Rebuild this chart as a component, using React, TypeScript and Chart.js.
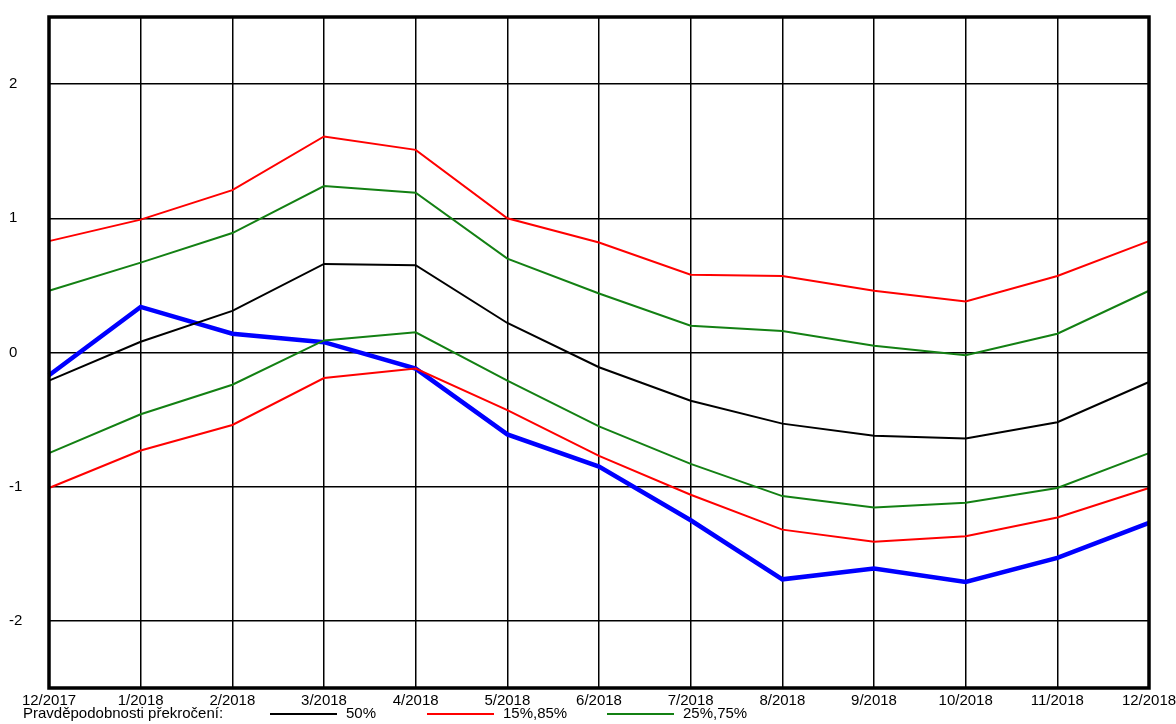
import React, { useEffect, useRef } from "react";
import { Chart, registerables } from "chart.js";

Chart.register(...registerables);

const months = ["12/2017", "1/2018", "2/2018", "3/2018", "4/2018", "5/2018", "6/2018", "7/2018", "8/2018", "9/2018", "10/2018", "11/2018", "12/2018"];
const yTicks = [-2, -1, 0, 1, 2];

const median50 = [-0.21, 0.08, 0.31, 0.66, 0.65, 0.22, -0.11, -0.36, -0.53, -0.62, -0.64, -0.52, -0.22];
const upper85 = [0.83, 0.99, 1.21, 1.61, 1.51, 1.0, 0.82, 0.58, 0.57, 0.46, 0.38, 0.57, 0.83];
const lower15 = [-1.01, -0.73, -0.54, -0.19, -0.12, -0.43, -0.77, -1.06, -1.32, -1.41, -1.37, -1.23, -1.01];
const upper75 = [0.46, 0.67, 0.89, 1.24, 1.19, 0.7, 0.44, 0.2, 0.16, 0.05, -0.02, 0.14, 0.46];
const lower25 = [-0.75, -0.46, -0.24, 0.09, 0.15, -0.21, -0.55, -0.83, -1.07, -1.155, -1.12, -1.01, -0.75];
const actual = [-0.17, 0.34, 0.14, 0.077, -0.12, -0.61, -0.85, -1.25, -1.69, -1.61, -1.71, -1.53, -1.27];

const legendTitle = "Pravděpodobnosti překročení:";
const legendLabels = ["50%", "15%,85%", "25%,75%"];
const legendColors = ["#000000", "#ff0000", "#138013"];
const legendX = [270, 427, 607];

const FONT = "'Liberation Sans', Arial, sans-serif";

export default function App() {
  const ref = useRef<HTMLCanvasElement | null>(null);

  useEffect(() => {
    const canvas = ref.current;
    if (!canvas) return;

    const framePlugin = {
      id: "frame",
      afterDatasetsDraw(chart: any) {
        const { ctx, chartArea } = chart;
        ctx.save();
        ctx.strokeStyle = "#000";
        ctx.lineWidth = 3.5;
        ctx.strokeRect(chartArea.left, chartArea.top, chartArea.right - chartArea.left, chartArea.bottom - chartArea.top);
        ctx.restore();
      },
      afterDraw(chart: any) {
        const { ctx } = chart;
        ctx.save();
        const y = 714;
        ctx.font = `15px ${FONT}`;
        ctx.textBaseline = "middle";
        ctx.textAlign = "left";
        ctx.fillStyle = "#000";
        ctx.fillText(legendTitle, 23, y);
        legendLabels.forEach((lab, i) => {
          const x = legendX[i];
          ctx.strokeStyle = legendColors[i];
          ctx.lineWidth = 2;
          ctx.beginPath();
          ctx.moveTo(x, y);
          ctx.lineTo(x + 67, y);
          ctx.stroke();
          ctx.fillStyle = "#000";
          ctx.fillText(lab, x + 76, y);
        });
        ctx.restore();
      },
    };

    const mk = (label: string, data: number[], color: string, width: number) => ({
      label,
      data,
      borderColor: color,
      backgroundColor: color,
      borderWidth: width,
      pointRadius: 0,
      tension: 0,
      fill: false,
    });

    const chart = new Chart(canvas, {
      type: "line",
      data: {
        labels: months,
        datasets: [
          mk("15%", lower15, "#ff0000", 2),
          mk("85%", upper85, "#ff0000", 2),
          mk("25%", lower25, "#138013", 2),
          mk("75%", upper75, "#138013", 2),
          mk("50%", median50, "#000000", 2),
          mk("Skutečnost", actual, "#0000ff", 4.5),
        ],
      },
      options: {
        responsive: false,
        animation: false,
        layout: { padding: { left: 9, right: 0, top: 16, bottom: 0 } },
        plugins: {
          legend: { display: false },
          tooltip: { enabled: false },
          title: { display: false },
        },
        scales: {
          x: {
            type: "category",
            offset: false,
            grid: { color: "#000", lineWidth: 1.5, drawTicks: false },
            border: { display: false },
            ticks: {
              color: "#000",
              font: { family: FONT, size: 15 },
              padding: 4,
              maxRotation: 0,
              autoSkip: false,
            },
            afterFit: (axis: any) => {
              axis.height = 36;
              axis.paddingRight = 27;
              axis.paddingLeft = 0;
            },
          },
          y: {
            min: -2.5,
            max: 2.5,
            grid: { color: "#000", lineWidth: 1.5, drawTicks: false },
            border: { display: false },
            ticks: {
              color: "#000",
              font: { family: FONT, size: 15 },
              crossAlign: "far",
              padding: 8,
            },
            afterBuildTicks: (axis: any) => {
              axis.ticks = yTicks.map((v) => ({ value: v }));
            },
            afterFit: (axis: any) => {
              axis.width = 40;
            },
          },
        },
      },
      plugins: [framePlugin],
    } as any);

    return () => chart.destroy();
  }, []);

  return (
    <div style={{ position: "absolute", left: 0, top: 0, width: 1176, height: 724, background: "#fff" }}>
      <canvas ref={ref} width={1176} height={724} style={{ display: "block" }} />
    </div>
  );
}
